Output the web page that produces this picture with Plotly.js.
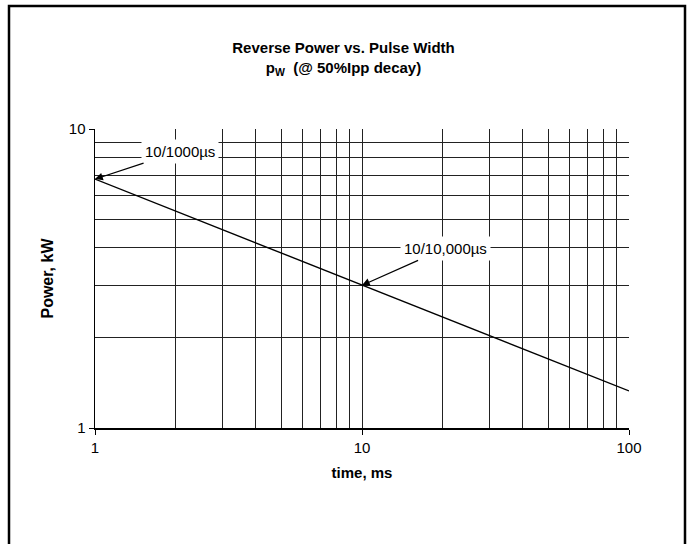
<!DOCTYPE html>
<html>
<head>
<meta charset="utf-8">
<script src="https://cdn.plot.ly/plotly-3.0.1.min.js"></script>
<style>html,body{margin:0;padding:0;background:#fff;}#chart{width:687px;height:544px;}</style>
</head>
<body>
<div id="chart"></div>
<script>
// Data
const timeMs = [1, 10, 100];
const powerKW = [6.8, 3.0, 1.33];
const xTickVals = [1, 10, 100];
const xTickText = ['1', '10', '100'];
const yTickVals = [1, 10];
const yTickText = ['1', '10'];
const xMinor = [2,3,4,5,6,7,8,9,20,30,40,50,60,70,80,90];
const yMinor = [2,3,4,5,6,7,8,9];
const annLabels = ['10/1000\u00b5s', '10/10,000\u00b5s'];
const annIndex = [0, 1];

const font = 'Liberation Sans, Arial, sans-serif';
const trace = {
  x: timeMs, y: powerKW, type: 'scatter', mode: 'lines',
  line: {color: '#000', width: 1.4}, hoverinfo: 'skip'
};
const annOffsets = [[85, -28], [83, -37]];
const annotations = annIndex.map((idx, i) => ({
  x: Math.log10(timeMs[idx]), y: Math.log10(powerKW[idx]), xref: 'x', yref: 'y',
  text: annLabels[i], showarrow: true, arrowhead: 2, arrowsize: 1.3, arrowwidth: 1.2,
  arrowcolor: '#000', ax: annOffsets[i][0], ay: annOffsets[i][1],
  bgcolor: '#fff', font: {family: font, size: 15, color: '#000'}, borderpad: 3
}));

const L = 95, R = 58, T = 129, B = 116;
const pw = 687 - L - R, ph = 544 - T - B;
const px = v => (v - L) / pw, py = v => (544 - B - v) / ph;

const layout = {
  width: 687, height: 544,
  margin: {l: L, r: R, t: T, b: B},
  paper_bgcolor: '#fff', plot_bgcolor: '#fff',
  showlegend: false,
  font: {family: font, color: '#000', size: 15},
  title: {
    text: '<b>Reverse Power vs. Pulse Width</b><br><b>p<sub>W</sub>  (@ 50%Ipp decay)</b>',
    x: 0.5, xref: 'container', xanchor: 'center',
    y: 1 - 53/544, yref: 'container', yanchor: 'top',
    font: {family: font, size: 15, color: '#000'}
  },
  xaxis: {
    type: 'log', range: [0, 2], tickmode: 'array', tickvals: xTickVals, ticktext: xTickText,
    ticks: 'outside', ticklen: 5, tickcolor: '#000', showline: true, linecolor: '#000', linewidth: 1.5,
    showgrid: true, gridcolor: '#222', gridwidth: 1, zeroline: false,
    tickfont: {family: font, size: 15},
    minor: {tickmode: 'array', tickvals: xMinor, showgrid: true, gridcolor: '#222', gridwidth: 1, ticks: ''},
    title: {text: '<b>time, ms</b>', font: {family: font, size: 15}, standoff: 13}
  },
  yaxis: {
    type: 'log', range: [0, 1], tickmode: 'array', tickvals: yTickVals, ticktext: yTickText,
    ticks: 'outside', ticklen: 5, tickcolor: '#000', showline: true, linecolor: '#000', linewidth: 1.5,
    showgrid: true, gridcolor: '#222', gridwidth: 1, zeroline: false,
    tickfont: {family: font, size: 15},
    minor: {tickmode: 'array', tickvals: yMinor, showgrid: true, gridcolor: '#222', gridwidth: 1, ticks: ''},
    title: {text: '<b>Power, kW</b>', font: {family: font, size: 16}, standoff: 11}
  },
  shapes: [{
    type: 'rect', xref: 'paper', yref: 'paper',
    x0: px(9), x1: px(685), y0: py(6), y1: py(600),
    line: {color: '#000', width: 2.5}, fillcolor: 'rgba(0,0,0,0)', layer: 'above'
  }],
  annotations: annotations
};

Plotly.newPlot('chart', [trace], layout, {displayModeBar: false, staticPlot: true});
</script>
</body>
</html>
